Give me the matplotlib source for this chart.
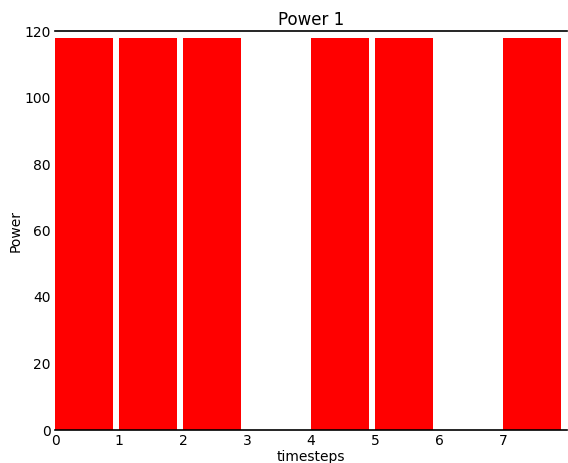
import matplotlib
matplotlib.use("Agg")
import matplotlib.pyplot as plt

# timesteps and power for each step
timesteps = [0, 1, 2, 3, 4, 5, 6, 7]
power = [118, 118, 118, 0, 118, 118, 0, 118]

fig = plt.figure(figsize=(5.68, 4.63), dpi=100)
ax = fig.add_axes([55 / 568, 33 / 463, 512 / 568, 399 / 463])

ax.bar(timesteps, power, width=0.9, align="edge", color="#ff0000", linewidth=0)

ax.set_xlim(0, 8)
ax.set_ylim(0, 120)
ax.set_xticks(timesteps)
ax.set_yticks([0, 20, 40, 60, 80, 100, 120])

# only top and bottom lines like the original
ax.spines["left"].set_visible(False)
ax.spines["right"].set_visible(False)
ax.spines["top"].set_linewidth(1.2)
ax.spines["bottom"].set_linewidth(1.2)
ax.tick_params(length=0, labelsize=10, pad=3)

ax.set_title("Power 1", fontsize=12, pad=4)
ax.set_xlabel("timesteps", fontsize=10, labelpad=1)
ax.set_ylabel("Power", fontsize=10, labelpad=1)
ax.yaxis.set_label_coords(-0.064, 0.5)

fig.savefig("out.png", dpi=100)
